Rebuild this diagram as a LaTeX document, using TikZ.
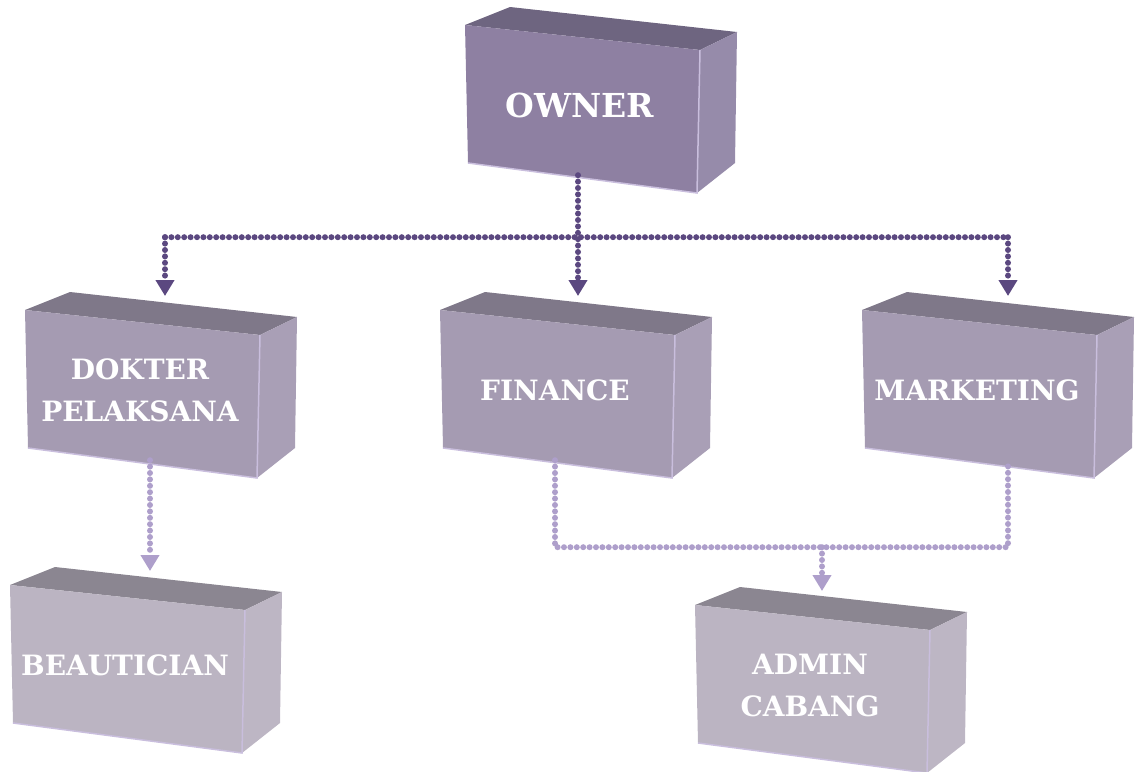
\documentclass[tikz,border=0pt]{standalone}
\usepackage{fontspec}
\setmainfont{DejaVu Serif}
\usetikzlibrary{arrows.meta,calc}

\definecolor{satuDepan}{HTML}{8E80A2}
\definecolor{satuAtas}{HTML}{6E6580}
\definecolor{satuSisi}{HTML}{968BAA}
\definecolor{duaDepan}{HTML}{A59BB2}
\definecolor{duaAtas}{HTML}{7F7889}
\definecolor{duaSisi}{HTML}{A99FB6}
\definecolor{tigaDepan}{HTML}{BBB4C2}
\definecolor{tigaAtas}{HTML}{8B8691}
\definecolor{tigaSisi}{HTML}{BDB6C4}
\definecolor{tepiTerang}{HTML}{C9BEDD}
\definecolor{garisTua}{HTML}{5B4880}
\definecolor{garisMuda}{HTML}{AE9FCB}

\tikzset{
  teks/.style={text=white, font=\fontsize{28}{42}\selectfont\bfseries, align=center,
    minimum width=230pt, minimum height=140pt},
  titik/.style={line width=6pt, line cap=round, dash pattern=on 0pt off 6.4pt},
  titikA/.style={titik, draw=garisTua},
  titikB/.style={titik, draw=garisMuda},
  panah/.style={-{Triangle[width=18pt,length=16pt]}},
}

% #1 nama, #2 #3 pojok kiri atas sisi depan, #4 tingkat, #5 x panah masuk, #6 teks
\newcommand{\Kotak}[6]{%
  \begin{scope}[shift={(#2,#3)}]
    \fill[#4Atas] (0,0) -- (45,-18) -- (272,7) -- (235,25) -- cycle;
    \fill[#4Sisi] (235,25) -- (272,7) -- (270,138) -- (232,168) -- cycle;
    \fill[#4Depan] (0,0) -- (235,25) -- (232,168) -- (3,138) -- cycle;
    \draw[tepiTerang, line width=1.5pt] (3,138) -- (232,168) -- (235,25);
    \coordinate (#1-atas) at (#5,-14);
  \end{scope}
  \node[teks] (#1) at ($(#2,#3)+(115,80)$) {#6};
}

\begin{document}
\begin{tikzpicture}[x=1pt, y=-1pt]
    \useasboundingbox (0,0) rectangle (1135,771);

    % Kotak
    \Kotak{owner}{465}{25}{satu}{113}{\fontsize{33}{40}\selectfont OWNER}
    \Kotak{dokter}{25}{310}{dua}{140}{DOKTER\\PELAKSANA}
    \Kotak{finance}{440}{310}{dua}{138}{FINANCE}
    \Kotak{marketing}{862}{310}{dua}{146}{MARKETING}
    \Kotak{beautician}{10}{585}{tiga}{140}{BEAUTICIAN}
    \Kotak{admin}{695}{605}{tiga}{127}{ADMIN\\CABANG}

    % Garis owner
    \coordinate (simpangA) at ($(owner.south)+(0,62)$);
    \draw[titikA] (simpangA -| dokter-atas) -- (simpangA -| marketing-atas);
    \draw[titikA,panah] (owner.south -| finance-atas) -- (finance-atas);
    \draw[titikA,panah] (simpangA -| dokter-atas) -- (dokter-atas);
    \draw[titikA,panah] (simpangA -| marketing-atas) -- (marketing-atas);

    % Garis bawah
    \draw[titikB,panah] (dokter.south -| beautician-atas) -- (beautician-atas);
    \coordinate (simpangB) at ($(finance.south)+(0,87)$);
    \draw[titikB] (finance.south) |- (simpangB -| marketing-atas) -- (marketing-atas |- marketing.south);
    \draw[titikB,panah] (simpangB -| admin-atas) -- (admin-atas);

\end{tikzpicture}
\end{document}
